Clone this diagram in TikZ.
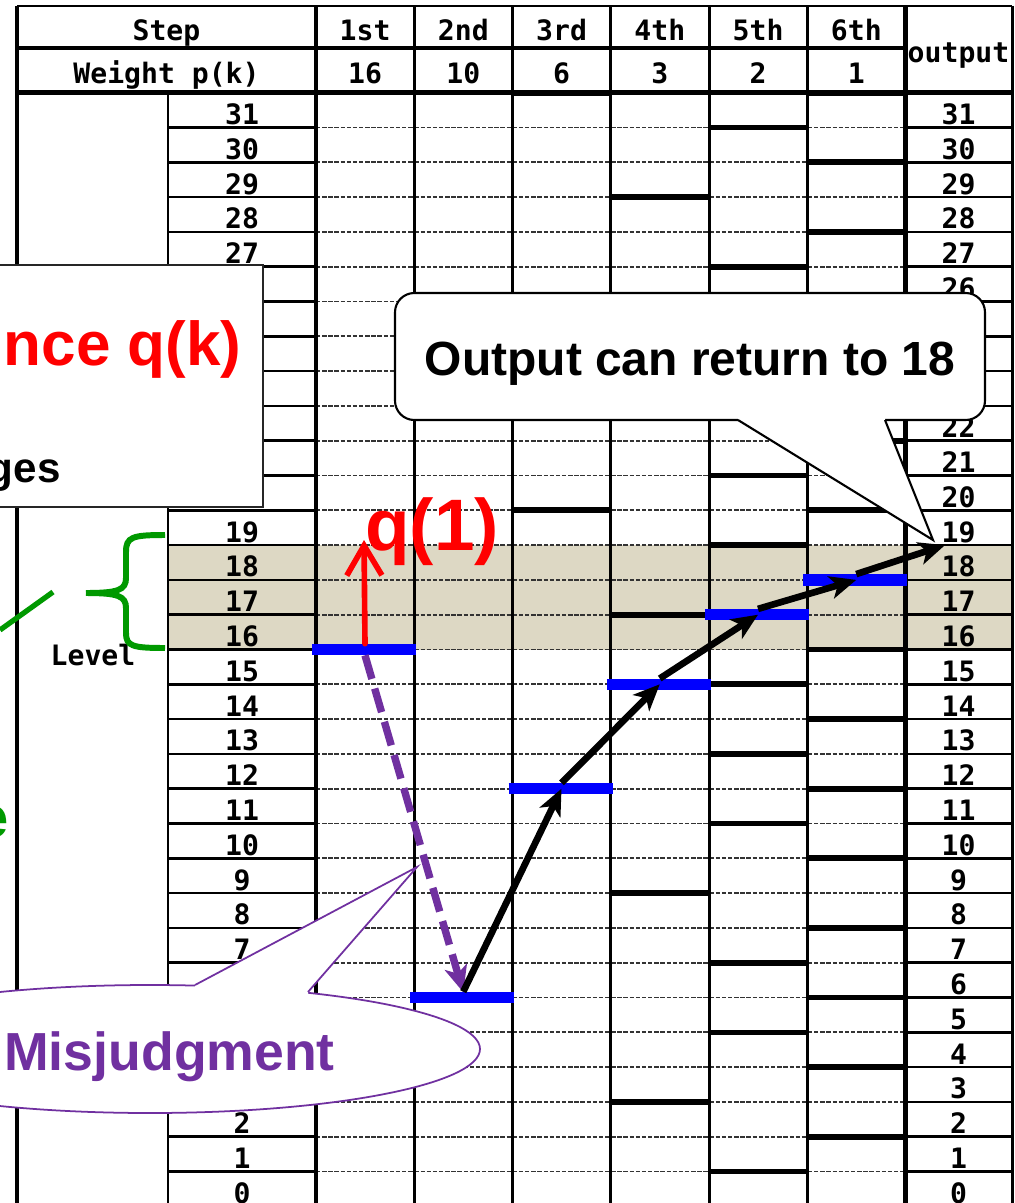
\documentclass[tikz,border=0pt]{standalone}
\usepackage{fontspec}
\setmainfont{Liberation Sans}
\setmonofont{DejaVu Sans Mono}
\usepackage{tikz}
\usetikzlibrary{arrows.meta}

\definecolor{bandtan}{RGB}{221,216,196}
\definecolor{misjpurple}{RGB}{112,48,160}
\definecolor{levelgreen}{RGB}{0,153,0}
\definecolor{barblue}{RGB}{0,0,255}

% y of the line under level #1, x of column border #1 (pixels)
\newcommand{\rowy}[1]{1206.3-34.8*(#1)}
\newcommand{\colx}[1]{316+98.25*(#1)}

\begin{document}
\begin{tikzpicture}[x=0.02cm,y=-0.02cm,
  gridsolid/.style={line width=1.5pt},
  griddash/.style={line width=1pt,black!80,dash pattern=on 2.5pt off 1pt},
  thresh/.style={line width=3.2pt},
  pathbar/.style={line width=6.5pt,barblue},
  steparrow/.style={line width=3.8pt,-{Stealth[length=15pt,width=13pt,inset=4pt]}},
  gridlabel/.style={inner sep=0pt,anchor=base,font=\fontsize{16}{16}\selectfont\ttfamily\bfseries},
  bigbold/.style={inner sep=0pt,font=\bfseries\fontsize{#1}{#1}\selectfont}]
  \useasboundingbox (0,0) rectangle (1014,1203);
  \clip (0,0) rectangle (1014,1203);
  \fill[white] (0,0) rectangle (1014,1203);
  \fill[bandtan] (168,{\rowy{19}}) rectangle (1012,{\rowy{16}});

  \foreach \k in {0,...,31}{
    \draw[griddash] ({\colx{0}},{\rowy{\k}}) -- ({\colx{6}},{\rowy{\k}});
    \draw[gridsolid] (168,{\rowy{\k}}) -- ({\colx{0}},{\rowy{\k}});
    \draw[gridsolid] ({\colx{6}},{\rowy{\k}}) -- (1012,{\rowy{\k}});
  }

  % comparison levels of each step
  \draw[thresh] ({\colx{1}},{\rowy{26}}) -- ({\colx{2}},{\rowy{26}});
  \foreach \k in {0,20,32}
    \draw[thresh] ({\colx{2}},{\rowy{\k}}) -- ({\colx{3}},{\rowy{\k}});
  \foreach \k in {3,9,17,23,29}
    \draw[thresh] ({\colx{3}},{\rowy{\k}}) -- ({\colx{4}},{\rowy{\k}});
  \foreach \k in {1,5,7,11,13,15,19,21,25,27,31}
    \draw[thresh] ({\colx{4}},{\rowy{\k}}) -- ({\colx{5}},{\rowy{\k}});
  \foreach \k in {0,2,4,6,8,10,12,14,16,20,22,24,26,28,30,32}
    \draw[thresh] ({\colx{5}},{\rowy{\k}}) -- ({\colx{6}},{\rowy{\k}});

  \draw[line width=1.8pt] (17,6) -- (17,1210);
  \draw[gridsolid] (168,{\rowy{32}}) -- (168,1210);
  \draw[line width=2.4pt] ({\colx{0}},6) -- ({\colx{0}},1210);
  \foreach \c in {1,...,5}
    \draw[line width=1.7pt] ({\colx{\c}},6) -- ({\colx{\c}},1210);
  \draw[line width=2.4pt] ({\colx{6}},6) -- ({\colx{6}},1210);
  \draw[line width=1.7pt] (1012,6) -- (1012,1210);
  \draw[line width=1.7pt] (17,6) -- (1012,6);
  \draw[line width=2.4pt] (17,48) -- ({\colx{6}},48);
  \draw[line width=2.6pt] (17,{\rowy{32}}) -- (1012,{\rowy{32}});

  \node[gridlabel] (hstep) at (166.5,41) {Step};
  \node[gridlabel] (hweight) at (166.5,84) {Weight p(k)};
  \foreach \s/\w [count=\i from 0] in {1st/16,2nd/10,3rd/6,4th/3,5th/2,6th/1}{
    \node[gridlabel] (st\i) at ({\colx{\i}+49.1},41) {\s};
    \node[gridlabel] (wt\i) at ({\colx{\i}+49.1},84) {\w};
  }
  \node[gridlabel] (hout) at (958.5,63) {output};
  \foreach \k in {0,1,2,7,8,...,19,27,28,...,31}
    \node[gridlabel] (lv\k) at (242,{\rowy{\k}-3}) {\k};
  \foreach \k in {0,1,...,22,26,27,...,31}
    \node[gridlabel] (out\k) at (958.5,{\rowy{\k}-3}) {\k};

  \foreach \c/\k [count=\i] in {0/16,1/6,2/12,3/15,4/17,5/18}{
    \coordinate (b\i) at ({\colx{\c}+49},{\rowy{\k}});
    \draw[pathbar] ({\colx{\c}-4},{\rowy{\k}}) -- ({\colx{\c}+100},{\rowy{\k}});
  }
  \coordinate (qtop) at (364,540);
  \coordinate (outtip) at (945,{\rowy{19}});

  \draw[red,line width=3.2pt,line cap=round,-{Straight Barb[length=17pt,width=20pt]}]
    ([yshift=3.3pt]b1) -- (qtop);
  \node[bigbold=41.5,red,anchor=base west] (qone) at (365,550) {q(1)};
  \draw[misjpurple,line width=4.2pt,dash pattern=on 14pt off 5.7pt,
        -{Stealth[length=15pt,width=13pt,inset=4pt]}]
    ([yshift=-3.3pt]b1) -- ([yshift=3pt]b2);
  \draw[steparrow] ([yshift=3.3pt]b2) -- (b3);
  \draw[steparrow] ([yshift=3.3pt]b3) -- (b4);
  \draw[steparrow] ([yshift=3.3pt]b4) -- (b5);
  \draw[steparrow] ([yshift=3.3pt]b5) -- (b6);
  \draw[steparrow] ([yshift=3.3pt]b6) -- (outtip);

  % callout at the top right
  \draw[line width=1.2pt,fill=white,rounded corners=11pt] (395,293) rectangle (985,420);
  \fill[white] (738,412) -- (885,412) -- (885,421) -- (933,540) -- (738,421) -- cycle;
  \draw[line width=1.2pt,line join=miter] (738,420) -- (933,540) -- (885,420);
  \node[bigbold=27.3,anchor=base] (outtxt) at (690,375) {Output can return to 18};

  % box at the top left
  \draw[black!85,line width=1.3pt,fill=white] (-10,265) rectangle (263,507);
  \node[bigbold=35.3,red,anchor=base east] (seqtxt) at (242,365) {nce q(k)};
  \node[bigbold=24,anchor=base east] (gestxt) at (61,482) {ges};

  \coordinate (gA) at (0,630);
  \coordinate (gB) at (53,592);
  \draw[levelgreen,line width=3pt] (gA) -- (gB);
  \node[gridlabel] (lvltxt) at (93,665) {Level};
  \draw[levelgreen,line width=3.4pt]
    (165,535) .. controls (132,535) and (126,537) .. (126,552) -- (126,578)
    .. controls (126,590) and (118,593) .. (86,593);
  \draw[levelgreen,line width=3.4pt]
    (165,648) .. controls (132,648) and (126,646) .. (126,633) -- (126,608)
    .. controls (126,596) and (118,593) .. (86,593);
  \node[bigbold=33,levelgreen,anchor=base east] (greene) at (9,837) {e};

  % misjudgment balloon
  \draw[misjpurple,line width=1pt,fill=white] (150,1049) ellipse [x radius=330,y radius=64];
  \fill[white] (195,985) -- (417,867) -- (308,992) -- (308,1000) -- (195,995) -- cycle;
  \draw[misjpurple,line width=1pt] (195,985) -- (417,867) -- (308,992);
  \node[bigbold=30.5,misjpurple,anchor=base west] (misj) at (4,1070) {Misjudgment};
\end{tikzpicture}
\end{document}
